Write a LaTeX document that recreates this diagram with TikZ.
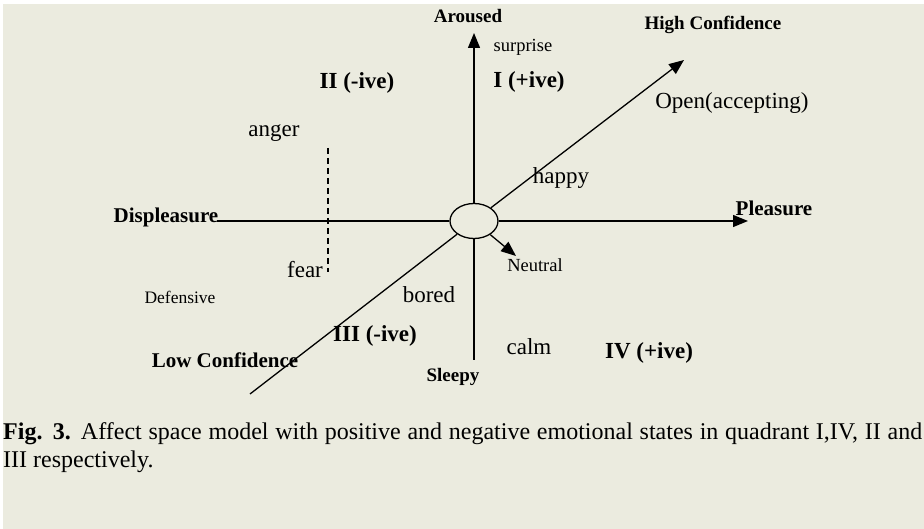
\documentclass[tikz,border=0pt]{standalone}
\usepackage{fontspec}
\setmainfont{Liberation Serif}
\usetikzlibrary{arrows.meta,shapes.geometric}

\definecolor{paper}{RGB}{235,235,223}

\begin{document}
\begin{tikzpicture}[x=1pt, y=-1pt,
    axis/.style={line width=1.3pt},
    tip/.style={-{Triangle[length=15pt,width=12pt]}},
    word/.style={font=\fontsize{23}{27}\selectfont},
    small/.style={font=\fontsize{18.5}{22}\selectfont},
    pole/.style={font=\bfseries\fontsize{21}{25}\selectfont},
    spole/.style={font=\bfseries\fontsize{19}{23}\selectfont},
    quad/.style={font=\bfseries\fontsize{23}{27}\selectfont},
    caption/.style={anchor=west, inner sep=0pt, font=\fontsize{24}{29}\selectfont}]

    % page
    \fill[white] (0,0) rectangle (924,529);
    \fill[paper] (3,4) rectangle (924,529);
    \useasboundingbox (0,0) rectangle (924,529);

    % origin of the affect space
    \node[ellipse, draw, line width=1.3pt, minimum width=48pt, minimum height=35pt, inner sep=0pt] (origin) at (474,221) {};

    \coordinate (aroused) at (474,33);
    \coordinate (sleepy)  at (474,360);
    \coordinate (displ)   at (217,221);
    \coordinate (pleas)   at (748,221);
    \coordinate (highc)   at (684,60);
    \coordinate (lowc)    at (250,394);
    \coordinate (neutr)   at (516,256);

    \draw[axis, tip] (origin.north) -- (aroused);
    \draw[axis] (origin.south) -- (sleepy);
    \draw[axis] (origin.west) -- (displ);
    \draw[axis, tip] (origin.east) -- (pleas);
    \draw[axis, tip] (origin.38) -- (highc);
    \draw[axis] (origin.218) -- (lowc);
    \draw[axis, tip] (origin.-40) -- (neutr);

    % dashed line between anger and fear
    \coordinate (dtop) at (328,148);
    \coordinate (dbot) at (328,272);
    \draw[line width=1.1pt, dash pattern=on 6pt off 4pt] (dtop) -- (dbot);

    % poles
    \node[spole] (tAroused) at (468,16) {Aroused};
    \node[spole] (tSleepy)  at (453,377) {Sleepy};
    \node[pole]  (tDispl)   at (166,217) {Displeasure};
    \node[pole]  (tPleas)   at (774,208) {Pleasure};
    \node[spole] (tHigh)    at (713,25) {High Confidence};
    \node[pole]  (tLow)     at (225,360) {Low Confidence};

    % quadrants
    \node[quad] (qI)   at (529,82)  {I (+ive)};
    \node[quad] (qII)  at (357,83)  {II (-ive)};
    \node[quad] (qIII) at (375,336) {III (-ive)};
    \node[quad] (qIV)  at (649,353) {IV (+ive)};

    % emotional states
    \node[small] (sSurprise) at (523,47)  {surprise};
    \node[word]  (sOpen)     at (732,103) {Open(accepting)};
    \node[word]  (sAnger)    at (274,133) {anger};
    \node[word]  (sHappy)    at (561,178) {happy};
    \node[word]  (sFear)     at (305,270) {fear};
    \node[small] (sNeutral)  at (535,265) {Neutral};
    \node[font=\fontsize{17.5}{21}\selectfont] (sDef) at (180,297) {Defensive};
    \node[word]  (sBored)    at (429,295) {bored};
    \node[word]  (sCalm)     at (529,347) {calm};

    % caption
    \node[caption] (cap1) at (3,434)
        {\makebox[919pt][s]{\textbf{Fig. 3.} Affect space model with positive and negative emotional states in quadrant I,IV, II and}};
    \node[caption] (cap2) at (3,462) {III respectively.};

\end{tikzpicture}
\end{document}
